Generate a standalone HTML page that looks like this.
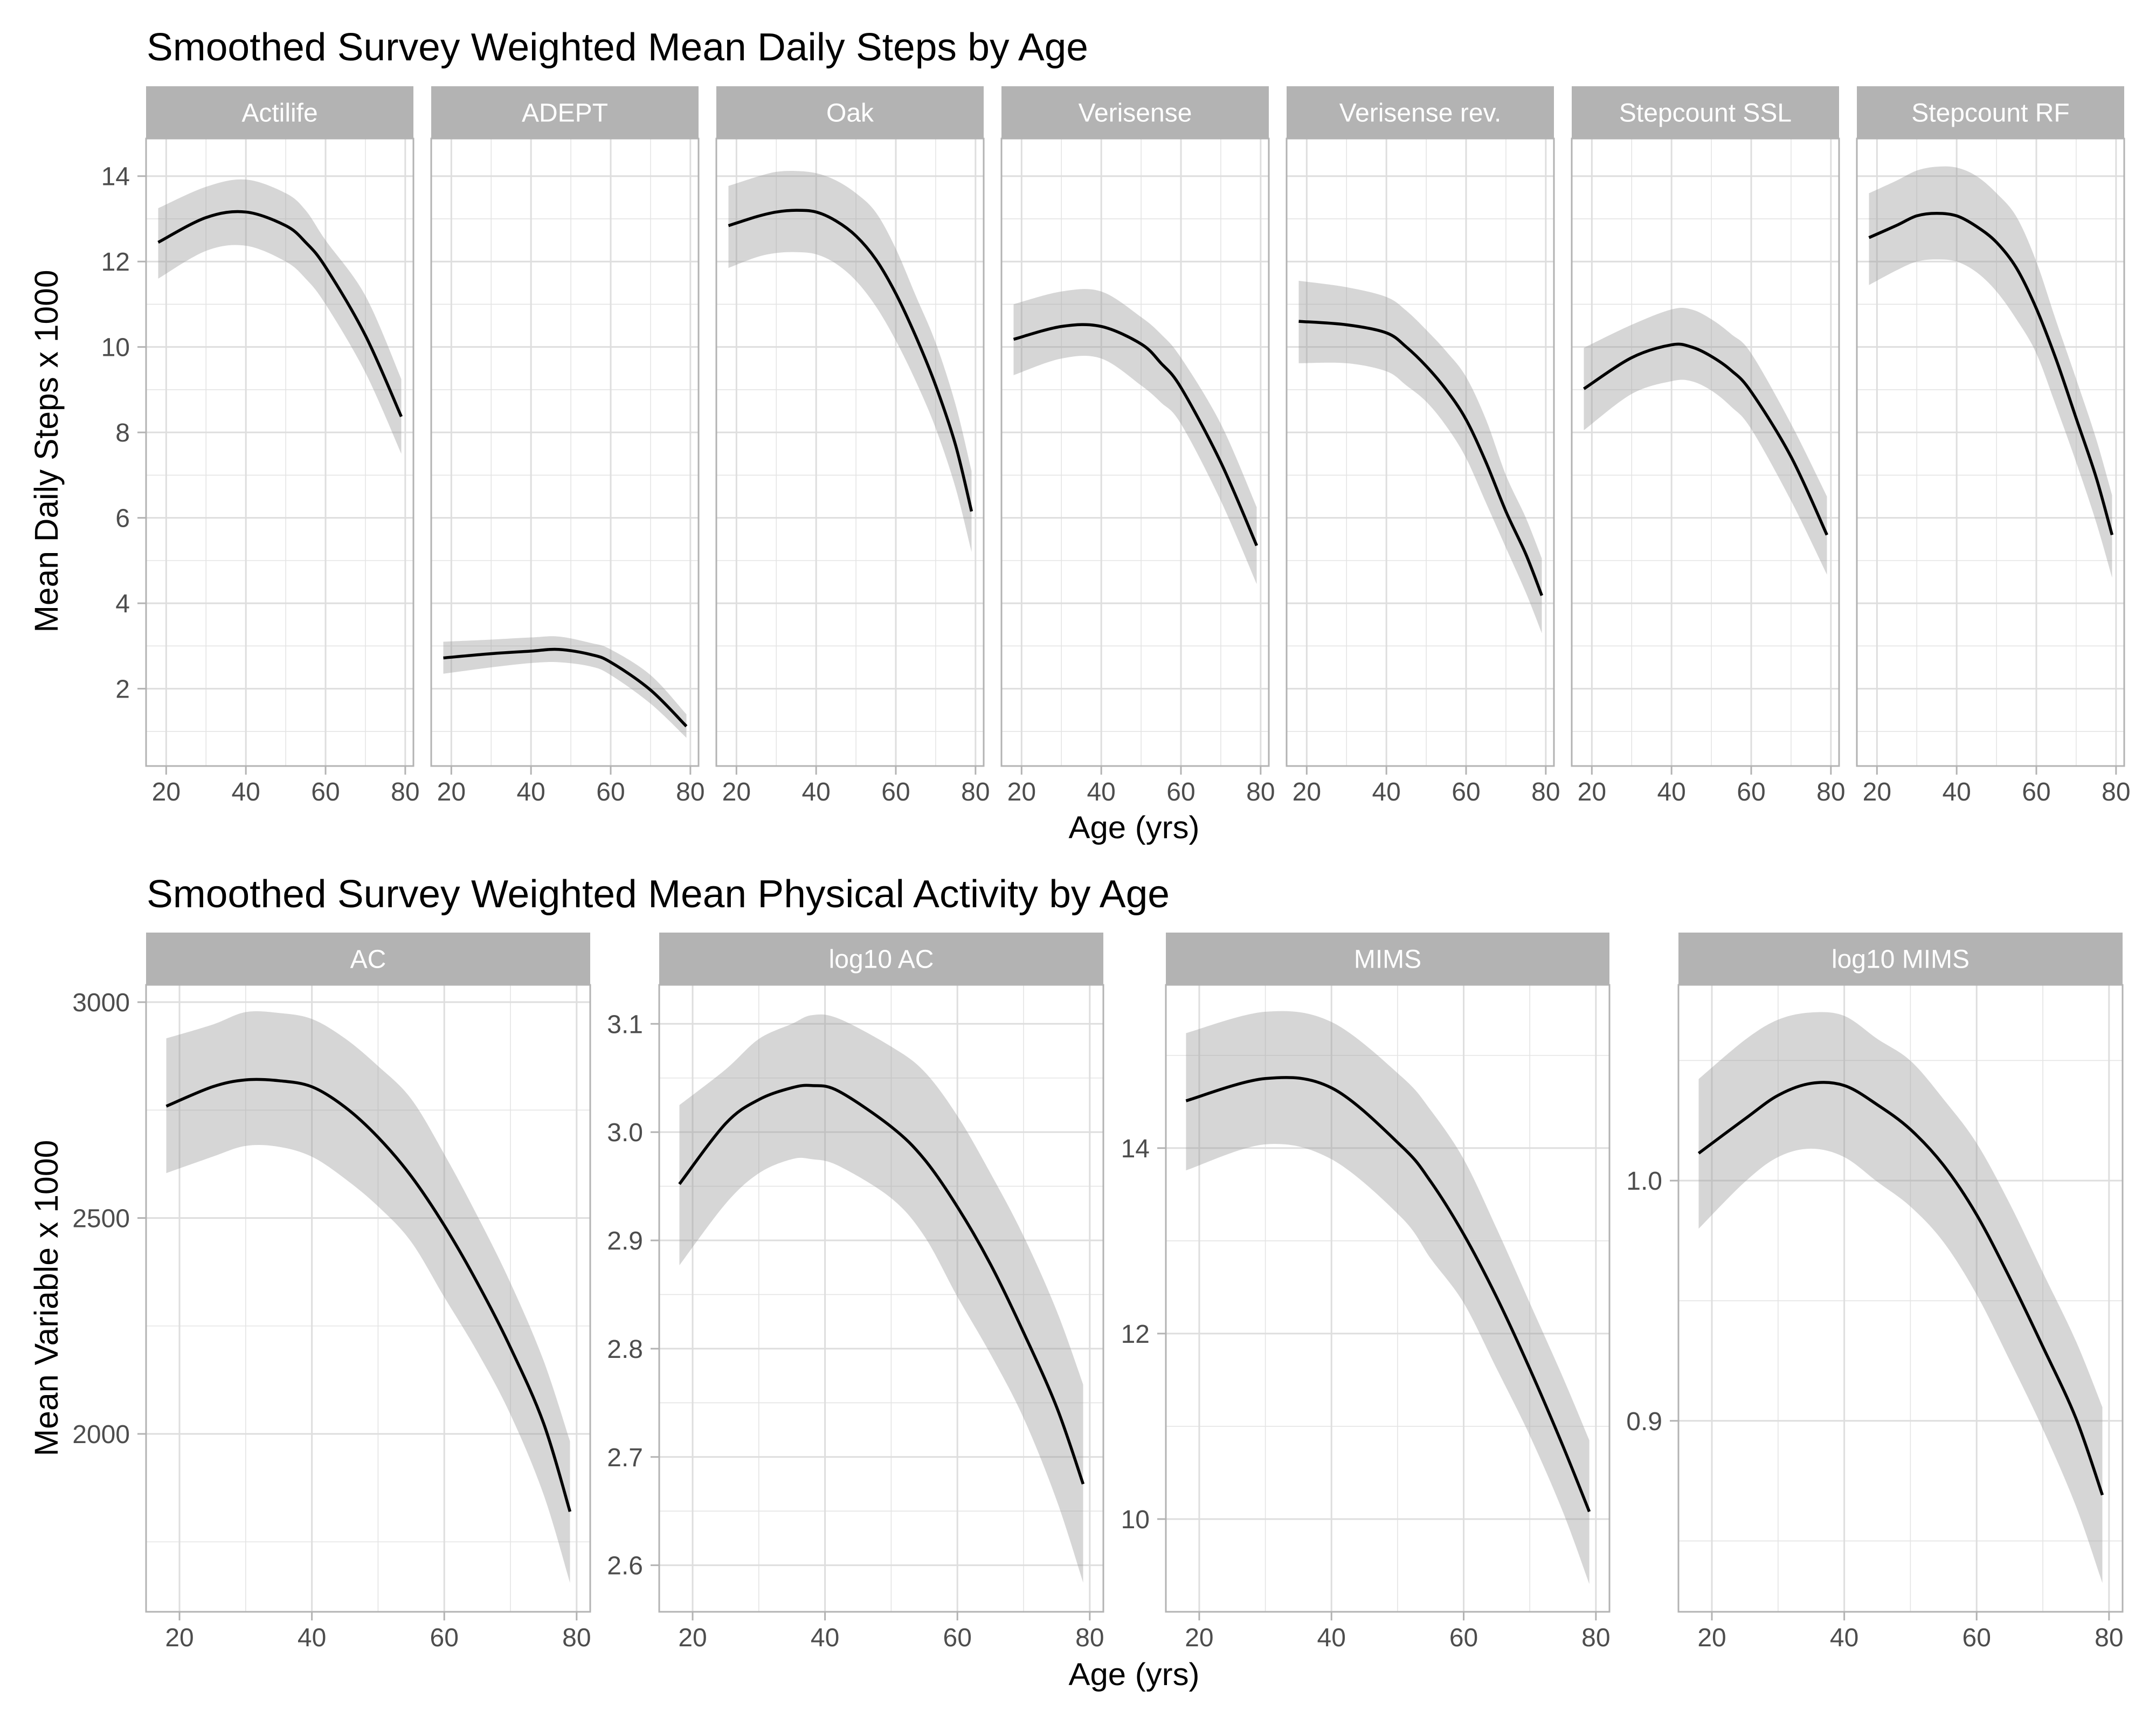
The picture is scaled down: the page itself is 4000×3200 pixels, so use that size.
<!DOCTYPE html>
<html><head><meta charset="utf-8">
<style>
html,body{margin:0;padding:0;background:#fff;}
svg{display:block;font-family:"Liberation Sans",Arial,sans-serif;}
</style></head>
<body>
<svg id="chart" xmlns="http://www.w3.org/2000/svg" width="4000" height="3200" viewBox="0 0 4000 3200">
<rect x="0" y="0" width="4000" height="3200" fill="#fff"/>
<text x="272" y="112" font-size="72" fill="#000" textLength="1747" lengthAdjust="spacingAndGlyphs">Smoothed Survey Weighted Mean Daily Steps by Age</text>
<text x="272" y="1683" font-size="72" fill="#000" textLength="1898" lengthAdjust="spacingAndGlyphs">Smoothed Survey Weighted Mean Physical Activity by Age</text>
<text transform="translate(107,837) rotate(-90)" text-anchor="middle" font-size="61" fill="#000" textLength="673" lengthAdjust="spacingAndGlyphs">Mean Daily Steps x 1000</text>
<text transform="translate(107,2408) rotate(-90)" text-anchor="middle" font-size="61" fill="#000" textLength="587" lengthAdjust="spacingAndGlyphs">Mean Variable x 1000</text>
<text x="2104" y="1555" text-anchor="middle" font-size="58" fill="#000" textLength="243" lengthAdjust="spacingAndGlyphs">Age (yrs)</text>
<text x="2104" y="3126" text-anchor="middle" font-size="58" fill="#000" textLength="243" lengthAdjust="spacingAndGlyphs">Age (yrs)</text>
<g id="panels"></g>
</svg>
<script>
// ---- data (estimated from reference) ----
const xTicks = [20, 40, 60, 80];
const xMinor = [30, 50, 70];

const stepsTicks = [2, 4, 6, 8, 10, 12, 14];
const stepsMinor = [1, 3, 5, 7, 9, 11, 13];

const actilifeAge  = [18, 30, 40, 50, 55, 60, 70, 79];
const actilifeMean = [12.45, 13.03, 13.16, 12.84, 12.45, 11.87, 10.27, 8.37];
const actilifeHi   = [13.25, 13.75, 13.92, 13.6, 13.2, 12.5, 11.2, 9.25];
const actilifeLo   = [11.6, 12.25, 12.37, 12.0, 11.6, 11.0, 9.4, 7.5];

const adeptAge  = [18, 30, 40, 47, 55, 60, 70, 79];
const adeptMean = [2.72, 2.82, 2.88, 2.92, 2.8, 2.62, 1.97, 1.12];
const adeptHi   = [3.1, 3.15, 3.2, 3.22, 3.07, 2.92, 2.32, 1.4];
const adeptLo   = [2.35, 2.5, 2.6, 2.62, 2.52, 2.32, 1.65, 0.85];

const oakAge  = [18, 25, 30, 35, 40, 45, 50, 55, 60, 65, 70, 75, 79];
const oakMean = [12.84, 13.05, 13.16, 13.2, 13.16, 12.95, 12.6, 12.05, 11.25, 10.25, 9.1, 7.7, 6.15];
const oakHi   = [13.77, 13.98, 14.1, 14.12, 14.07, 13.9, 13.6, 13.15, 12.3, 11.2, 10.1, 8.65, 7.1];
const oakLo   = [11.85, 12.1, 12.2, 12.22, 12.17, 11.95, 11.55, 10.95, 10.15, 9.2, 8.1, 6.7, 5.2];

const verisenseAge  = [18, 30, 40, 50, 55, 60, 70, 79];
const verisenseMean = [10.18, 10.48, 10.48, 10.07, 9.62, 9.05, 7.3, 5.35];
const verisenseHi   = [11.0, 11.3, 11.3, 10.7, 10.3, 9.75, 8.2, 6.25];
const verisenseLo   = [9.34, 9.73, 9.73, 9.1, 8.7, 8.2, 6.4, 4.45];

const verisenseRevAge  = [18, 30, 40, 45, 50, 55, 60, 65, 70, 75, 79];
const verisenseRevMean = [10.6, 10.52, 10.33, 10.0, 9.55, 9.0, 8.3, 7.3, 6.15, 5.15, 4.18];
const verisenseRevHi   = [11.55, 11.4, 11.17, 10.85, 10.4, 9.9, 9.3, 8.3, 7.0, 6.0, 5.05];
const verisenseRevLo   = [9.62, 9.62, 9.43, 9.1, 8.72, 8.15, 7.4, 6.35, 5.3, 4.25, 3.3];

const sslAge  = [18, 30, 40, 45, 50, 55, 60, 70, 79];
const sslMean = [9.02, 9.75, 10.05, 10.0, 9.78, 9.45, 8.95, 7.43, 5.6];
const sslHi   = [9.98, 10.52, 10.88, 10.88, 10.65, 10.3, 9.85, 8.2, 6.5];
const sslLo   = [8.05, 8.9, 9.2, 9.2, 8.98, 8.6, 8.08, 6.4, 4.67];

const rfAge  = [18, 25, 30, 35, 40, 45, 50, 55, 60, 65, 70, 75, 79];
const rfMean = [12.56, 12.85, 13.07, 13.13, 13.07, 12.82, 12.45, 11.85, 10.9, 9.7, 8.33, 6.95, 5.6];
const rfHi   = [13.6, 13.9, 14.13, 14.22, 14.2, 14.0, 13.6, 13.05, 12.0, 10.6, 9.25, 7.85, 6.53];
const rfLo   = [11.45, 11.8, 12.0, 12.05, 12.0, 11.75, 11.3, 10.65, 9.85, 8.6, 7.3, 5.9, 4.6];

const acTicks = [2000, 2500, 3000];
const acMinor = [1750, 2250, 2750];
const acAge  = [18, 25, 30, 35, 40, 45, 50, 55, 60, 65, 70, 75, 79];
const acMean = [2759, 2804, 2820, 2818, 2804, 2757, 2687, 2597, 2483, 2350, 2200, 2025, 1820];
const acHi   = [2916, 2948, 2977, 2975, 2961, 2916, 2852, 2776, 2648, 2505, 2350, 2170, 1983];
const acLo   = [2604, 2642, 2667, 2665, 2642, 2591, 2527, 2445, 2317, 2190, 2045, 1860, 1655];

const logAcTicks = [2.6, 2.7, 2.8, 2.9, 3.0, 3.1];
const logAcMinor = [2.65, 2.75, 2.85, 2.95, 3.05];
const logAcAge  = [18, 25, 30, 35, 38, 42, 50, 55, 60, 65, 70, 75, 79];
const logAcMean = [2.952, 3.008, 3.03, 3.041, 3.043, 3.038, 3.005, 2.975, 2.931, 2.878, 2.815, 2.746, 2.675];
const logAcHi   = [3.025, 3.058, 3.086, 3.1, 3.108, 3.105, 3.079, 3.056, 3.015, 2.962, 2.904, 2.835, 2.767];
const logAcLo   = [2.877, 2.934, 2.962, 2.975, 2.975, 2.969, 2.939, 2.904, 2.848, 2.795, 2.736, 2.66, 2.584];

const mimsTicks = [10, 12, 14];
const mimsMinor = [9, 11, 13, 15];
const mimsAge  = [18, 30, 40, 50.6, 55, 60, 65, 70, 75, 79];
const mimsMean = [14.51, 14.75, 14.65, 14.02, 13.64, 13.07, 12.39, 11.62, 10.79, 10.08];
const mimsHi   = [15.24, 15.47, 15.36, 14.77, 14.41, 13.88, 13.13, 12.33, 11.53, 10.85];
const mimsLo   = [13.76, 14.04, 13.88, 13.25, 12.81, 12.33, 11.62, 10.9, 10.08, 9.3];

const logMimsTicks = [0.9, 1.0];
const logMimsMinor = [0.85, 0.95, 1.05];
const logMimsAge  = [18, 25, 30, 35, 40, 45, 50, 55, 60, 65, 70, 75, 79];
const logMimsMean = [1.0114, 1.0257, 1.0355, 1.0405, 1.0396, 1.0316, 1.0213, 1.0064, 0.9858, 0.9595, 0.9309, 0.9011, 0.8691];
const logMimsHi   = [1.0423, 1.0586, 1.067, 1.07, 1.0686, 1.059, 1.0499, 1.0339, 1.0156, 0.9904, 0.9618, 0.9332, 0.9057];
const logMimsLo   = [0.98, 0.9995, 1.0098, 1.0133, 1.0098, 0.9995, 0.9892, 0.9744, 0.9526, 0.9252, 0.8966, 0.8645, 0.8325];

// ---- rendering ----
const NS = 'http://www.w3.org/2000/svg';
const root = document.getElementById('panels');
function mk(tag, attrs, parent) {
  const e = document.createElementNS(NS, tag);
  for (const k in attrs) e.setAttribute(k, attrs[k]);
  (parent || root).appendChild(e);
  return e;
}
function smoothPath(pts) {
  let d = 'M' + pts[0][0].toFixed(1) + ',' + pts[0][1].toFixed(1);
  for (let i = 0; i < pts.length - 1; i++) {
    const p0 = pts[i - 1] || pts[i], p1 = pts[i], p2 = pts[i + 1], p3 = pts[i + 2] || p2;
    const c1x = p1[0] + (p2[0] - p0[0]) / 6, c1y = p1[1] + (p2[1] - p0[1]) / 6;
    const c2x = p2[0] - (p3[0] - p1[0]) / 6, c2y = p2[1] - (p3[1] - p1[1]) / 6;
    d += ' C' + c1x.toFixed(1) + ',' + c1y.toFixed(1) + ' ' + c2x.toFixed(1) + ',' + c2y.toFixed(1) + ' ' + p2[0].toFixed(1) + ',' + p2[1].toFixed(1);
  }
  return d;
}

function panel(cfg) {
  const g = mk('g', {});
  
  
  const L = cfg.x, R = cfg.x + cfg.w, T = cfg.top, B = cfg.bottom;
  const xMin = 14.95, xMax = 82.05;
  const sx = v => L + (v - xMin) / (xMax - xMin) * (R - L);
  const sy = v => B - (v - cfg.yMin) / (cfg.yMax - cfg.yMin) * (B - T);

  const strip = mk('rect', {x: L, y: cfg.stripTop, width: R - L, height: T - cfg.stripTop, fill: '#b3b3b3'}, g);
  
  
  const st = mk('text', {x: (L + R) / 2, y: (cfg.stripTop + T) / 2 + 17, 'text-anchor': 'middle', 'font-size': 48, fill: '#fff'}, g);
  st.textContent = cfg.label;
  
  

  cfg.minor.forEach(v => { const y = sy(v); if (y > T && y < B) mk('line', {x1: L, x2: R, y1: y, y2: y, stroke: '#e4e4e4', 'stroke-width': 1.6}, g); });
  xMinor.forEach(v => mk('line', {x1: sx(v), x2: sx(v), y1: T, y2: B, stroke: '#e4e4e4', 'stroke-width': 1.6}, g));
  cfg.ticks.forEach(v => mk('line', {x1: L, x2: R, y1: sy(v), y2: sy(v), stroke: '#dedede', 'stroke-width': 3}, g));
  xTicks.forEach(v => mk('line', {x1: sx(v), x2: sx(v), y1: T, y2: B, stroke: '#dedede', 'stroke-width': 3}, g));

  const up = cfg.age.map((a, i) => [sx(a), sy(cfg.hi[i])]);
  const dn = cfg.age.map((a, i) => [sx(a), sy(cfg.lo[i])]).reverse();
  const rib = mk('path', {d: smoothPath(up) + ' L' + smoothPath(dn).slice(1) + ' Z', fill: '#999999', 'fill-opacity': 0.4}, g);
  
  
  const ln = mk('path', {d: smoothPath(cfg.age.map((a, i) => [sx(a), sy(cfg.mean[i])])), fill: 'none', stroke: '#000', 'stroke-width': 5.5, 'stroke-linejoin': 'round'}, g);
  
  

  mk('rect', {x: L, y: T, width: R - L, height: B - T, fill: 'none', stroke: '#b3b3b3', 'stroke-width': 3}, g);

  xTicks.forEach(v => {
    mk('line', {x1: sx(v), x2: sx(v), y1: B, y2: B + 16, stroke: '#b3b3b3', 'stroke-width': 3}, g);
    const t = mk('text', {x: sx(v), y: B + 64, 'text-anchor': 'middle', 'font-size': 48, fill: '#4d4d4d'}, g);
    t.textContent = String(v);
    
    
  });
  if (cfg.showY) {
    cfg.ticks.forEach((v, i) => {
      mk('line', {x1: L - 16, x2: L, y1: sy(v), y2: sy(v), stroke: '#b3b3b3', 'stroke-width': 3}, g);
      const t = mk('text', {x: L - 30, y: sy(v) + 17, 'text-anchor': 'end', 'font-size': 48, fill: '#4d4d4d'}, g);
      t.textContent = cfg.tickLabels ? cfg.tickLabels[i] : String(v);
      
      
    });
  }
}

const topNames = ['actilife', 'adept', 'oak', 'verisense', 'verisense-rev', 'stepcount-ssl', 'stepcount-rf'];
const topLabels = ['Actilife', 'ADEPT', 'Oak', 'Verisense', 'Verisense rev.', 'Stepcount SSL', 'Stepcount RF'];
const topData = [
  [actilifeAge, actilifeMean, actilifeLo, actilifeHi],
  [adeptAge, adeptMean, adeptLo, adeptHi],
  [oakAge, oakMean, oakLo, oakHi],
  [verisenseAge, verisenseMean, verisenseLo, verisenseHi],
  [verisenseRevAge, verisenseRevMean, verisenseRevLo, verisenseRevHi],
  [sslAge, sslMean, sslLo, sslHi],
  [rfAge, rfMean, rfLo, rfHi]
];
topData.forEach((d, k) => panel({
  name: topNames[k], label: topLabels[k], x: 271 + 529 * k, w: 496,
  stripTop: 160, top: 257, bottom: 1421, yMin: 0.19, yMax: 14.88,
  ticks: stepsTicks, minor: stepsMinor, showY: k === 0,
  age: d[0], mean: d[1], lo: d[2], hi: d[3]
}));

panel({name: 'ac', label: 'AC', x: 271, w: 824, stripTop: 1730, top: 1827, bottom: 2990,
  yMin: 1588, yMax: 3040, ticks: acTicks, minor: acMinor, showY: true,
  age: acAge, mean: acMean, lo: acLo, hi: acHi});
panel({name: 'log10-ac', label: 'log10 AC', x: 1223, w: 824, stripTop: 1730, top: 1827, bottom: 2990,
  yMin: 2.557, yMax: 3.136, ticks: logAcTicks, minor: logAcMinor, showY: true,
  tickLabels: logAcTicks.map(v => v.toFixed(1)),
  age: logAcAge, mean: logAcMean, lo: logAcLo, hi: logAcHi});
panel({name: 'mims', label: 'MIMS', x: 2163, w: 823, stripTop: 1730, top: 1827, bottom: 2990,
  yMin: 9.0, yMax: 15.76, ticks: mimsTicks, minor: mimsMinor, showY: true,
  age: mimsAge, mean: mimsMean, lo: mimsLo, hi: mimsHi});
panel({name: 'log10-mims', label: 'log10 MIMS', x: 3114, w: 824, stripTop: 1730, top: 1827, bottom: 2990,
  yMin: 0.8205, yMax: 1.0815, ticks: logMimsTicks, minor: logMimsMinor, showY: true,
  tickLabels: logMimsTicks.map(v => v.toFixed(1)),
  age: logMimsAge, mean: logMimsMean, lo: logMimsLo, hi: logMimsHi});
</script>
</body></html>
